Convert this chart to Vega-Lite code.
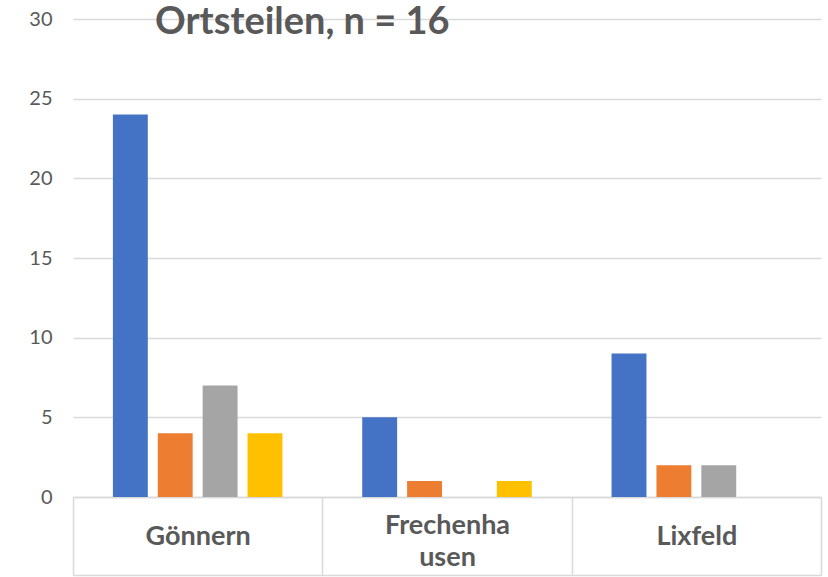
{
  "$schema": "https://vega.github.io/schema/vega-lite/v6.json",
  "width": 748,
  "height": 478,
  "autosize": {"type": "none"},
  "padding": {"left": 73, "top": 19, "right": 7, "bottom": 80},
  "background": "white",
  "title": {
    "text": "Ortsteilen, n = 16",
    "anchor": "start",
    "frame": "group",
    "orient": "bottom",
    "baseline": "alphabetic",
    "offset": -542,
    "dx": 82,
    "font": "Lato",
    "fontSize": 38,
    "fontWeight": "bold",
    "color": "#595959"
  },
  "data": {
    "values": [
      {"ort": "Gönnern", "serie": "Serie 1", "anzahl": 24},
      {"ort": "Gönnern", "serie": "Serie 2", "anzahl": 4},
      {"ort": "Gönnern", "serie": "Serie 3", "anzahl": 7},
      {"ort": "Gönnern", "serie": "Serie 4", "anzahl": 4},
      {"ort": "Frechenhausen", "serie": "Serie 1", "anzahl": 5},
      {"ort": "Frechenhausen", "serie": "Serie 2", "anzahl": 1},
      {"ort": "Frechenhausen", "serie": "Serie 3", "anzahl": 0},
      {"ort": "Frechenhausen", "serie": "Serie 4", "anzahl": 1},
      {"ort": "Lixfeld", "serie": "Serie 1", "anzahl": 9},
      {"ort": "Lixfeld", "serie": "Serie 2", "anzahl": 2},
      {"ort": "Lixfeld", "serie": "Serie 3", "anzahl": 2},
      {"ort": "Lixfeld", "serie": "Serie 4", "anzahl": 0}
    ]
  },
  "layer": [
    {
      "mark": {"type": "bar"},
      "encoding": {
        "x": {
          "field": "ort",
          "type": "nominal",
          "sort": ["Gönnern", "Frechenhausen", "Lixfeld"],
          "scale": {"paddingInner": 0, "paddingOuter": 0},
          "axis": {
            "title": null,
            "labelAngle": 0,
            "tickBand": "extent",
            "tickSize": 78,
            "tickColor": "#d9d9d9",
            "tickWidth": 1.5,
            "domainColor": "#d9d9d9",
            "domainWidth": 1.5,
            "labelPadding": {"expr": "datum.label == 'Frechenhausen' ? -42 : -31"},
            "labelBaseline": "alphabetic",
            "labelFont": "Lato",
            "labelFontSize": 27,
            "labelFontWeight": "bold",
            "labelColor": "#595959",
            "labelLineHeight": 32,
            "labelExpr": "datum.label == 'Frechenhausen' ? ['Frechenha', 'usen'] : datum.label"
          }
        },
        "xOffset": {
          "field": "serie",
          "type": "nominal",
          "scale": {"paddingInner": 0.2222, "paddingOuter": 0.8889}
        },
        "y": {
          "field": "anzahl",
          "type": "quantitative",
          "scale": {"domain": [0, 30], "nice": false},
          "axis": {
            "title": null,
            "values": [0, 5, 10, 15, 20, 25, 30],
            "domain": false,
            "ticks": false,
            "gridColor": "#d9d9d9",
            "gridWidth": 1.5,
            "labelPadding": 21,
            "labelFont": "Lato",
            "labelFontSize": 20,
            "labelColor": "#595959"
          }
        },
        "color": {
          "field": "serie",
          "type": "nominal",
          "scale": {"range": ["#4472C4", "#ED7D31", "#A5A5A5", "#FFC000"]},
          "legend": null
        }
      }
    },
    {
      "mark": {"type": "bar", "opacity": 0},
      "encoding": {
        "x": {
          "field": "ort",
          "type": "nominal",
          "sort": ["Gönnern", "Frechenhausen", "Lixfeld"],
          "axis": {
            "orient": "bottom",
            "offset": 78,
            "labels": false,
            "ticks": false,
            "title": null,
            "domainColor": "#d9d9d9",
            "domainWidth": 1.5
          }
        },
        "y": {"field": "anzahl", "type": "quantitative"}
      }
    }
  ],
  "resolve": {"axis": {"x": "independent"}},
  "config": {"view": {"stroke": null}}
}
